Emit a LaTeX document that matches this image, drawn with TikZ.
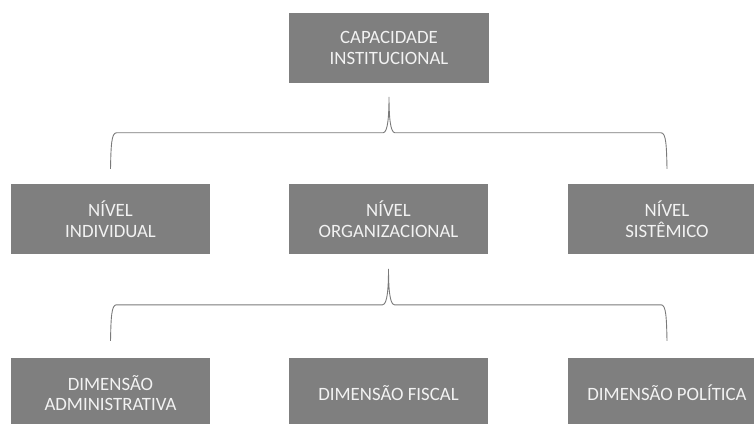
\documentclass[tikz,border=0pt]{standalone}
\usepackage{fontspec}
\setmainfont{Carlito}
\usetikzlibrary{calc}

\definecolor{caixacinza}{HTML}{7F7F7F}
\definecolor{textoclaro}{HTML}{F2F2F2}
\definecolor{linhacinza}{HTML}{7A7A7A}

\tikzset{
  caixa/.style={fill=caixacinza, text=textoclaro, minimum width=199, minimum height=70,
    inner sep=0pt, align=center, font=\fontsize{18.8}{20.5}\selectfont},
  chave/.style={draw=linhacinza, line width=0.9pt}
}

% #1 filho esquerdo, #2 filho direito, #3 pai, #4 folga acima dos filhos
\newcommand{\chave}[4]{%
  \draw[chave] ($(#1.north)+(0,#4)$)
    .. controls +(0.5,24) and +(-5,0) .. ($(#1.north)+(6,#4+36)$)
    -- ($(#3.south |- #1.north)+(-6,#4+36)$)
    .. controls +(5,0) and +(0,-18) .. ($(#3.south |- #1.north)+(0,#4+72)$)
    .. controls +(0,-18) and +(-5,0) .. ($(#3.south |- #1.north)+(6,#4+36)$)
    -- ($(#2.north)+(-6,#4+36)$)
    .. controls +(5,0) and +(-0.5,24) .. ($(#2.north)+(0,#4)$);
}

\begin{document}
\begin{tikzpicture}[x=1pt,y=1pt]
  \useasboundingbox (0,0) rectangle (754,423);
  \clip (0,0) rectangle (754,423);

  % topo
  \node[caixa, minimum width=200] (cap) at (389,375) {CAPACIDADE\\INSTITUCIONAL};

  % niveis
  \node[caixa] (ind) at (110.5,204) {NÍVEL\\INDIVIDUAL};
  \node[caixa] (org) at (388.5,204) {NÍVEL\\ORGANIZACIONAL};
  \node[caixa] (sis) at (667,204) {NÍVEL\\SISTÊMICO};

  % dimensoes
  \node[caixa] (adm) at (110.5,30) {DIMENSÃO\\ADMINISTRATIVA};
  \node[caixa] (fis) at (388.5,30) {DIMENSÃO FISCAL};
  \node[caixa] (pol) at (667,30) {DIMENSÃO POLÍTICA};

  \chave{ind}{sis}{cap}{15}
  \chave{adm}{pol}{org}{17}
\end{tikzpicture}
\end{document}
